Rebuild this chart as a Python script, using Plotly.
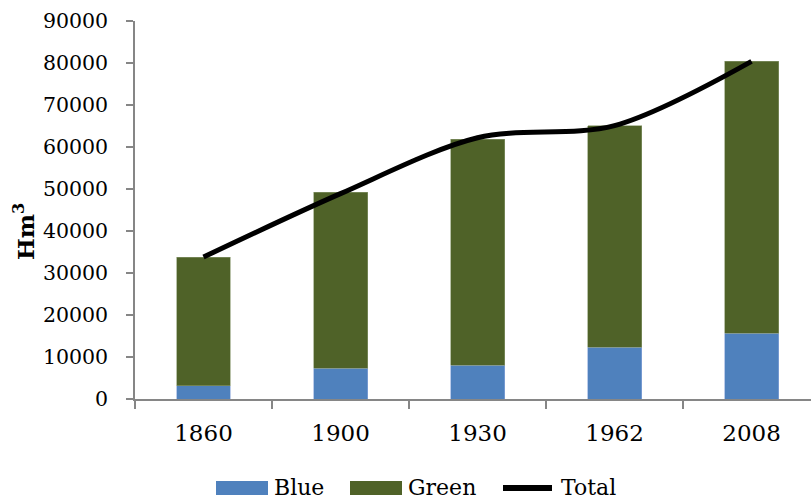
import plotly.graph_objects as go

years = ["1860", "1900", "1930", "1962", "2008"]
blue = [3200, 7300, 8000, 12300, 15600]
green = [30600, 41900, 53800, 52800, 64800]
total = [33800, 48900, 62200, 65100, 80400]
y_ticks = [0, 10000, 20000, 30000, 40000, 50000, 60000, 70000, 80000, 90000]

BLUE = "#4F81BD"
GREEN = "#4F6228"
AXIS = "#868686"
FONT = "DejaVu Serif"

W, H = 811, 500
L, R, T, B = 135, 0, 21, 101
PW, PH = W - L - R, H - T - B


def px(x):
    return (x - L) / PW


def py(y):
    return (H - B - y) / PH


fig = go.Figure()
fig.add_trace(go.Bar(x=years, y=blue, name="Blue", marker=dict(color=BLUE, line=dict(color="#8FAADC", width=0.6)), showlegend=False))
fig.add_trace(go.Bar(x=years, y=green, name="Green", marker=dict(color=GREEN, line=dict(color="#8A9A70", width=0.6)), showlegend=False))
fig.add_trace(go.Scatter(x=years, y=total, name="Total", mode="lines", line=dict(color="black", width=5, shape="spline", smoothing=0.9), showlegend=False))

fig.update_layout(
    width=W, height=H,
    margin=dict(l=L, r=R, t=T, b=B, autoexpand=False),
    plot_bgcolor="white", paper_bgcolor="white",
    barmode="stack", bargap=0.606,
    font=dict(family=FONT, color="black", size=20),
    showlegend=False,
    xaxis=dict(type="category", range=[-0.5, 4.434], showline=True, linecolor=AXIS, linewidth=1.5,
               ticks="outside", tickson="boundaries", ticklen=8, tickcolor=AXIS, tickwidth=1.5,
               tickfont=dict(size=23, family=FONT), showgrid=False, tickangle=0, ticklabelstandoff=13),
    yaxis=dict(range=[0, 90000], tickvals=y_ticks, tickformat="d", showline=True, linecolor=AXIS, linewidth=1.5,
               ticks="outside", ticklen=7, tickcolor=AXIS, tickwidth=1.5, showgrid=False, zeroline=False,
               tickfont=dict(size=20.5, family=FONT), ticklabelstandoff=14),
)
fig.add_annotation(text="<b>Hm<sup>3</sup></b>", xref="paper", yref="paper", x=px(24), y=py(232),
                   textangle=-90, showarrow=False, font=dict(size=23, family=FONT), xanchor="center", yanchor="middle")

# manual legend (swatches + labels)
legend_items = [("Blue", BLUE, "rect", 216, 268, 274),
                ("Green", GREEN, "rect", 350, 402, 408),
                ("Total", "black", "line", 500, 555, 561)]
ly = 488
for name, col, kind, x0, x1, tx in legend_items:
    if kind == "rect":
        fig.add_shape(type="rect", xref="paper", yref="paper", x0=px(x0), x1=px(x1), y0=py(ly + 7), y1=py(ly - 7),
                      fillcolor=col, line=dict(width=0))
    else:
        fig.add_shape(type="line", xref="paper", yref="paper", x0=px(x0 + 3), x1=px(x1 - 3), y0=py(ly), y1=py(ly),
                      line=dict(color=col, width=6))
    fig.add_annotation(text=name, xref="paper", yref="paper", x=px(tx), y=py(ly), xanchor="left", yanchor="middle",
                       showarrow=False, font=dict(size=22, family=FONT), xshift=-2)

fig.write_html("out.html")
